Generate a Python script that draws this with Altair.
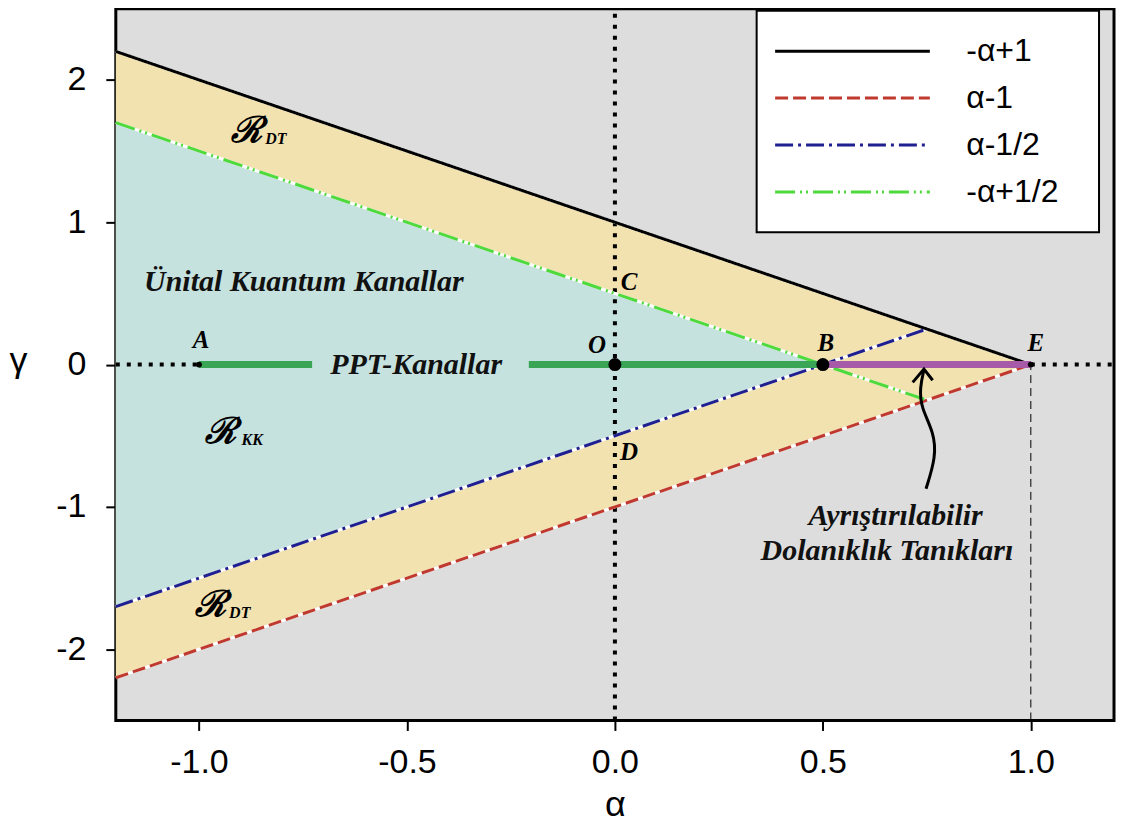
import altair as alt
import pandas as pd

# ---- data ----
series_names = ["-α+1", "α-1", "α-1/2", "-α+1/2"]
series_colors = ["#000000", "#c0392f", "#1f1f8f", "#4ed93c"]
series_dash = [[1, 0], [13, 5], [18, 5, 3, 5], [20, 5, 2, 4, 2, 5]]
line_x0 = [-1.2, -1.2, -1.2, -1.2]
line_y0 = [2.2, -2.2, -1.7, 1.7]
line_x1 = [1.0, 1.0, 0.75, 0.75]
line_y1 = [0.0, 0.0, 0.25, -0.25]

# shaded regions (triangles bounded by the lines)
dt_x = [-1.2, 1.0]
dt_lo = [-2.2, 0.0]
dt_hi = [2.2, 0.0]
kk_x = [-1.2, 0.5]
kk_lo = [-1.7, 0.0]
kk_hi = [1.7, 0.0]

# thick segments on gamma = 0
ppt_x0 = [-1.0, -0.207]
ppt_x1 = [-0.728, 0.5]
wit_x0 = [0.5]
wit_x1 = [1.0]

# points
big_pt_x = [0.0, 0.5]
small_pt_x = [-1.0, 1.0]

# letter labels
letters = ["A", "O", "C", "D", "B", "E"]
letter_x = [-0.995, -0.043, 0.034, 0.034, 0.507, 1.012]
letter_y = [0.17, 0.135, 0.58, -0.615, 0.15, 0.15]

# region labels
big_texts = ["Ünital Kuantum Kanallar", "PPT-Kanallar", "Ayrıştırılabilir", "Dolanıklık Tanıkları"]
big_x = [-0.748, -0.478, 0.675, 0.654]
big_y = [0.58, 0.0, -1.066, -1.309]

r_x = [-0.885, -0.948, -0.972]
r_y = [1.642, -0.476, -1.691]
sub_texts = ["DT", "KK", "DT"]
sub_x = [-0.815, -0.872, -0.902]
sub_y = [1.582, -0.530, -1.745]

# arrow
arrow_x = [0.748, 0.772, 0.767, 0.736, 0.733, 0.743]
arrow_y = [-0.872, -0.649, -0.476, -0.302, -0.163, -0.038]
head_x = [0.716, 0.743, 0.764]
head_y = [-0.125, -0.031, -0.110]

# ---- scales / axes ----
MINUS = "\u2212"
xscale = alt.Scale(domain=[-1.2, 1.2], nice=False, zero=False)
yscale = alt.Scale(domain=[-2.5, 2.5], nice=False, zero=False)
xaxis = alt.Axis(values=[-1.0, -0.5, 0.0, 0.5, 1.0], format=".1f",
                 labelExpr=f"replace(datum.label, '{MINUS}', '-')",
                 title="α", grid=False, domain=False,
                 tickSize=10, tickWidth=2, tickColor="black",
                 labelFont="Liberation Sans", labelFontSize=34, labelColor="black",
                 labelPadding=15, titleFont="Liberation Sans", titleFontSize=36,
                 titleFontWeight="normal", titleColor="black",
                 titleY=84, titleBaseline="middle")
yaxis = alt.Axis(values=[-2, -1, 0, 1, 2], format="d",
                 labelExpr=f"replace(datum.label, '{MINUS}', '-')",
                 title="γ", grid=False, domain=False,
                 tickSize=10, tickWidth=2, tickColor="black",
                 labelFont="Liberation Sans", labelFontSize=34, labelColor="black",
                 labelPadding=20, titleFont="Liberation Sans", titleFontSize=36,
                 titleFontWeight="normal", titleColor="black", titleAngle=0,
                 titleX=-98, titleY=352, titleBaseline="middle", titleAlign="center")


def X(f):
    return alt.X(f, type="quantitative", scale=xscale, axis=xaxis)


def Y(f):
    return alt.Y(f, type="quantitative", scale=yscale, axis=yaxis)


# ---- tables ----
lines_rows = []
for i, s in enumerate(series_names):
    lines_rows.append({"series": s, "x": line_x0[i], "y": line_y0[i], "o": 0})
    lines_rows.append({"series": s, "x": line_x1[i], "y": line_y1[i], "o": 1})
lines_df = pd.DataFrame(lines_rows)

dt_df = pd.DataFrame({"x": dt_x, "lo": dt_lo, "hi": dt_hi})
kk_df = pd.DataFrame({"x": kk_x, "lo": kk_lo, "hi": kk_hi})

dt_area = alt.Chart(dt_df).mark_area(color="#f2e2b0", opacity=1).encode(
    x=X("x"), y=Y("lo"), y2="hi")
kk_area = alt.Chart(kk_df).mark_area(color="#c6e2df", opacity=1).encode(
    x=X("x"), y=Y("lo"), y2="hi")

# dotted reference lines
vdot = alt.Chart(pd.DataFrame({"x": [0.0], "y": [-2.5], "y2": [2.5]})).mark_rule(
    color="black", strokeWidth=4, strokeDash=[4, 7]).encode(x=X("x"), y=Y("y"), y2="y2")
hdot = alt.Chart(pd.DataFrame({"x": [-1.2, 1.0], "x2": [-1.0, 1.2], "y": [0.0, 0.0]})).mark_rule(
    color="black", strokeWidth=4, strokeDash=[4, 7]).encode(x=X("x"), x2="x2", y=Y("y"))
vthin = alt.Chart(pd.DataFrame({"x": [1.0], "y": [-2.5], "y2": [0.0]})).mark_rule(
    color="black", strokeWidth=1, strokeDash=[8, 5]).encode(x=X("x"), y=Y("y"), y2="y2")

leg = alt.Legend(orient="none", legendX=642, legendY=2, title=None,
                 symbolType="stroke", symbolSize=24025, symbolStrokeWidth=3,
                 labelFont="Liberation Sans", labelFontSize=32, labelColor="black",
                 labelOffset=35, clipHeight=47, rowPadding=0, padding=17,
                 fillColor="white", strokeColor="black",
                 labelExpr="datum.label + '\u2800'")

white_lines = alt.Chart(lines_df).mark_line(color="white", strokeWidth=3).encode(
    x=X("x"), y=Y("y"), detail="series:N", order="o:Q")
color_lines = alt.Chart(lines_df).mark_line(strokeWidth=3).encode(
    x=X("x"), y=Y("y"), order="o:Q",
    color=alt.Color("series:N", sort=series_names,
                    scale=alt.Scale(domain=series_names, range=series_colors), legend=leg),
    strokeDash=alt.StrokeDash("series:N", sort=series_names,
                              scale=alt.Scale(domain=series_names, range=series_dash), legend=leg),
)

ppt = alt.Chart(pd.DataFrame({"x": ppt_x0, "x2": ppt_x1, "y": [0.0] * len(ppt_x0)})).mark_rule(
    color="#3aa655", strokeWidth=7).encode(x=X("x"), x2="x2", y=Y("y"))
wit = alt.Chart(pd.DataFrame({"x": wit_x0, "x2": wit_x1, "y": [0.0]})).mark_rule(
    color="#a65aa8", strokeWidth=7).encode(x=X("x"), x2="x2", y=Y("y"))

big_pts = alt.Chart(pd.DataFrame({"x": big_pt_x, "y": [0.0] * 2})).mark_point(
    filled=True, color="black", size=170, opacity=1).encode(x=X("x"), y=Y("y"))
small_pts = alt.Chart(pd.DataFrame({"x": small_pt_x, "y": [0.0] * 2})).mark_point(
    filled=True, color="black", size=35, opacity=1).encode(x=X("x"), y=Y("y"))

letters_t = alt.Chart(pd.DataFrame({"t": letters, "x": letter_x, "y": letter_y})).mark_text(
    font="Liberation Serif", fontSize=25, fontStyle="italic", fontWeight="bold",
    color="black", baseline="middle", align="center").encode(x=X("x"), y=Y("y"), text="t:N")

big_t = alt.Chart(pd.DataFrame({"t": big_texts, "x": big_x, "y": big_y})).mark_text(
    font="Liberation Serif", fontSize=30, fontStyle="italic", fontWeight="bold",
    color="#111111", baseline="middle", align="center").encode(x=X("x"), y=Y("y"), text="t:N")

r_t = alt.Chart(pd.DataFrame({"t": ["ℛ"] * 3, "x": r_x, "y": r_y})).mark_text(
    font="DejaVu Serif", fontSize=36, fontStyle="italic", fontWeight="bold",
    color="black", baseline="middle", align="center").encode(x=X("x"), y=Y("y"), text="t:N")
sub_t = alt.Chart(pd.DataFrame({"t": sub_texts, "x": sub_x, "y": sub_y})).mark_text(
    font="Liberation Serif", fontSize=16, fontStyle="italic", fontWeight="bold",
    color="black", baseline="middle", align="center").encode(x=X("x"), y=Y("y"), text="t:N")

arrow = alt.Chart(pd.DataFrame({"x": arrow_x, "y": arrow_y, "o": list(range(len(arrow_x)))})).mark_line(
    color="black", strokeWidth=3, interpolate="basis").encode(x=X("x"), y=Y("y"), order="o:Q")
head = alt.Chart(pd.DataFrame({"x": head_x, "y": head_y, "o": list(range(len(head_x)))})).mark_line(
    color="black", strokeWidth=3).encode(x=X("x"), y=Y("y"), order="o:Q")

chart = alt.layer(
    dt_area, kk_area, vdot, hdot, vthin, white_lines, color_lines, ppt, wit,
    big_pts, small_pts, letters_t, big_t, r_t, sub_t, arrow, head
).properties(
    width=1000, height=713,
    autosize=alt.AutoSizeParams(type="none"),
    padding={"left": 108, "top": 0, "right": 5, "bottom": 110},
).configure_view(
    fill="#dddddd", stroke="black", strokeWidth=3
).configure_legend(strokeWidth=2)

chart.save("out.html", embed_options={"renderer": "svg", "actions": False})
